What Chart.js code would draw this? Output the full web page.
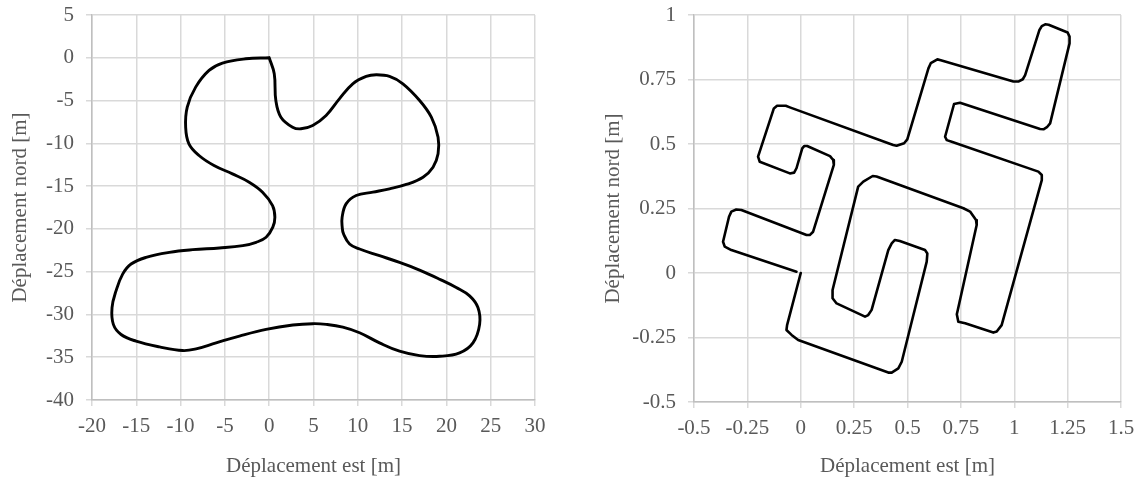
<!DOCTYPE html>
<html>
<head>
<meta charset="utf-8">
<script src="https://cdn.jsdelivr.net/npm/chart.js@4.4.1/dist/chart.umd.min.js"></script>
<style>
  html, body { margin: 0; padding: 0; background: #ffffff; }
  #wrap { position: relative; width: 1142px; height: 479px; background: #ffffff; overflow: hidden; }
  .panel { position: absolute; top: 0; width: 571px; height: 479px; }
</style>
</head>
<body>
<div id="wrap">
  <div class="panel" style="left:0px"><canvas id="c1" width="571" height="479"></canvas></div>
  <div class="panel" style="left:571px"><canvas id="c2" width="571" height="479"></canvas></div>
</div>
<script>
// ---- Left panel: smooth closed trajectory (m) ----
const leftEast = [0, 0.57, 0.75, 1.32, 2.64, 3.58, 4.91, 6.42, 7.92, 9.43, 10.94, 12.08, 13.58, 15.09, 16.98, 18.30, 19.06, 19.06, 18.49, 17.36, 15.47, 13.58, 11.70, 9.81, 8.68, 8.23, 8.24, 8.39, 9.07, 10.20, 12.45, 14.71, 16.97, 19.23, 21.11, 22.62, 23.56, 23.75, 23.0, 21.49, 19.23, 16.97, 14.71, 12.45, 10.20, 8.31, 6.43, 4.92, 2.67, -0.35, -3.36, -5.99, -8.25, -9.76, -12.39, -15.03, -16.72, -17.59, -17.74, -17.29, -16.54, -15.59, -13.90, -11.27, -8.63, -5.62, -2.98, -1.48, -0.35, 0.41, 0.64, 0.38, -0.75, -2.26, -4.15, -6.23, -7.92, -9.06, -9.43, -9.25, -8.30, -6.79, -5.28, -2.64, 0];
const leftNorth = [0, -1.87, -4.99, -6.94, -8.11, -8.30, -7.91, -6.74, -4.80, -3.04, -2.18, -1.99, -2.18, -3.04, -4.99, -6.94, -9.28, -11.23, -12.79, -13.96, -14.81, -15.32, -15.71, -16.10, -17.08, -18.64, -19.8, -20.59, -21.76, -22.35, -23.13, -23.92, -24.82, -25.88, -26.85, -27.83, -29.20, -31.16, -33.32, -34.49, -34.89, -34.81, -34.30, -33.32, -32.14, -31.48, -31.16, -31.08, -31.24, -31.75, -32.53, -33.32, -34.02, -34.22, -33.79, -33.12, -32.34, -31.16, -29.20, -27.25, -25.29, -24.11, -23.33, -22.74, -22.43, -22.23, -21.96, -21.57, -20.98, -19.80, -18.64, -17.27, -15.71, -14.54, -13.57, -12.59, -11.42, -10.06, -8.11, -5.77, -3.43, -1.48, -0.62, -0.12, 0];

// ---- Right panel: angular trajectory (m) ----
const rightEast = [0, -0.064, -0.067, -0.043, -0.012, 0.410, 0.426, 0.457, 0.473, 0.590, 0.593, 0.582, 0.464, 0.441, 0.426, 0.410, 0.332, 0.316, 0.301, 0.168, 0.149, 0.149, 0.269, 0.293, 0.337, 0.355, 0.762, 0.793, 0.821, 0.824, 0.735, 0.731, 0.738, 0.770, 0.902, 0.918, 0.941, 1.129, 1.129, 1.113, 0.707, 0.684, 0.676, 0.718, 0.746, 1.121, 1.137, 1.153, 1.168, 1.259, 1.259, 1.250, 1.161, 1.145, 1.129, 1.118, 1.051, 1.040, 1.019, 0.996, 0.656, 0.640, 0.609, 0.598, 0.499, 0.484, 0.449, 0.433, -0.051, -0.070, -0.111, -0.126, -0.200, -0.192, -0.051, -0.031, -0.020, 0.007, 0.016, 0.030, 0.137, 0.152, 0.155, 0.058, 0.042, 0.027, -0.278, -0.302, -0.325, -0.336, -0.364, -0.356, -0.325, -0.020];
const rightNorth = [0, -0.202, -0.221, -0.240, -0.260, -0.386, -0.386, -0.370, -0.344, 0.044, 0.076, 0.089, 0.124, 0.128, 0.115, 0.089, -0.143, -0.163, -0.169, -0.118, -0.098, -0.066, 0.335, 0.354, 0.376, 0.374, 0.251, 0.238, 0.205, 0.186, -0.145, -0.160, -0.189, -0.195, -0.231, -0.227, -0.202, 0.360, 0.380, 0.393, 0.509, 0.515, 0.528, 0.655, 0.660, 0.558, 0.557, 0.565, 0.580, 0.890, 0.916, 0.932, 0.962, 0.964, 0.957, 0.942, 0.767, 0.751, 0.742, 0.742, 0.825, 0.828, 0.813, 0.793, 0.518, 0.503, 0.493, 0.496, 0.642, 0.648, 0.648, 0.638, 0.451, 0.431, 0.386, 0.389, 0.406, 0.483, 0.492, 0.492, 0.453, 0.438, 0.419, 0.160, 0.147, 0.147, 0.244, 0.246, 0.238, 0.218, 0.121, 0.102, 0.089, 0.005];

// ---- Tick values ----
const leftXTicks = [-20, -15, -10, -5, 0, 5, 10, 15, 20, 25, 30];
const leftYTicks = [-40, -35, -30, -25, -20, -15, -10, -5, 0, 5];
const rightXTicks = [-0.5, -0.25, 0, 0.25, 0.5, 0.75, 1, 1.25, 1.5];
const rightYTicks = [-0.5, -0.25, 0, 0.25, 0.5, 0.75, 1];

const xTitle = 'Déplacement est [m]';
const yTitle = 'Déplacement nord [m]';

const FONT = 'Liberation Serif';
const TEXT = '#595959';
const GRID = '#d9d9d9';
const AXIS = '#bfbfbf';

function makeChart(canvasId, xs, ys, xTicks, yTicks, cfg) {
  const pts = xs.map((x, i) => ({ x: x, y: ys[i] }));
  const axisCommon = (ticksArr) => ({
    type: 'linear',
    min: ticksArr[0],
    max: ticksArr[ticksArr.length - 1],
    afterBuildTicks: (s) => { s.ticks = ticksArr.map(v => ({ value: v })); },
    grid: { color: GRID, lineWidth: 1.5, tickLength: 6, tickColor: GRID, drawTicks: true },
    border: { color: AXIS, width: 1.5 },
  });
  const xAxis = Object.assign(axisCommon(xTicks), {
    position: 'bottom',
    afterFit: (s) => { s.height = cfg.xHeight; s.paddingLeft = 0; s.paddingRight = 0; },
    ticks: { color: TEXT, font: { family: FONT, size: 21 }, padding: 8, maxRotation: 0, autoSkip: false,
             callback: (v) => String(v) },
    title: { display: true, text: xTitle, color: TEXT, font: { family: FONT, size: 21 }, padding: { top: 0, bottom: 0 } },
  });
  const yAxis = Object.assign(axisCommon(yTicks), {
    position: 'left',
    afterFit: (s) => { s.width = cfg.yWidth; s.paddingTop = 0; s.paddingBottom = 0; },
    ticks: { color: TEXT, font: { family: FONT, size: 21 }, padding: 12, autoSkip: false,
             callback: (v) => String(v) },
    title: { display: true, text: yTitle, color: TEXT, font: { family: FONT, size: 21 }, padding: { top: cfg.yTitlePad, bottom: 0 } },
  });
  return new Chart(document.getElementById(canvasId), {
    type: 'scatter',
    data: {
      datasets: [{
        data: pts,
        showLine: true,
        borderColor: '#000000',
        borderWidth: cfg.lineWidth,
        tension: cfg.tension,
        pointRadius: 0,
        pointHoverRadius: 0,
        borderJoinStyle: 'round',
        borderCapStyle: 'round',
        fill: false,
      }]
    },
    options: {
      responsive: false,
      animation: false,
      devicePixelRatio: 1,
      layout: { padding: { top: 15, left: 0, right: cfg.padRight, bottom: 0 } },
      plugins: { legend: { display: false }, tooltip: { enabled: false } },
      scales: { x: xAxis, y: yAxis },
    }
  });
}

makeChart('c1', leftEast, leftNorth, leftXTicks, leftYTicks,
  { xHeight: 79, yWidth: 92, yTitlePad: 8, padRight: 36, tension: 0.4, lineWidth: 2.9 });
makeChart('c2', rightEast, rightNorth, rightXTicks, rightYTicks,
  { xHeight: 77, yWidth: 123, yTitlePad: 30, padRight: 21, tension: 0, lineWidth: 2.6 });
</script>
</body>
</html>
